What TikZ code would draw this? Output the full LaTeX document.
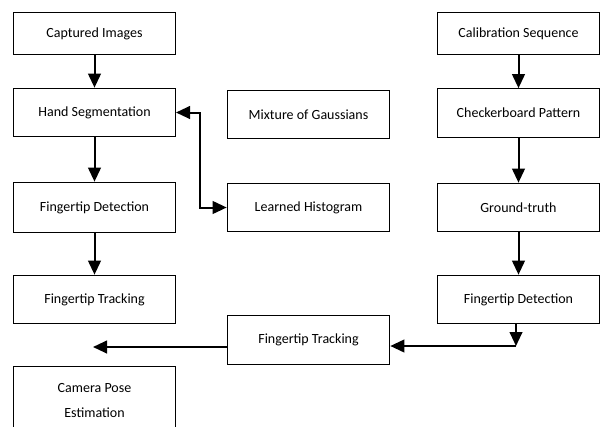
\documentclass[tikz,border=0pt]{standalone}
\usepackage{fontspec}
\setmainfont{Carlito}
\usetikzlibrary{arrows.meta}

\begin{document}
\begin{tikzpicture}[x=0.75pt,y=0.75pt,yscale=-1,xscale=1,
    blk/.style={draw,line width=0.75pt,minimum width=121.5pt,minimum height=36.5pt,inner sep=0pt,align=center,font=\fontsize{10.5}{18.5}\selectfont},
    arr/.style={line width=1.5pt,-{Triangle[length=10.5pt,width=9.5pt]}},
    arrb/.style={line width=1.5pt,{Triangle[length=10.5pt,width=9.5pt]}-{Triangle[length=10.5pt,width=9.5pt]}}]
            \useasboundingbox (0,0) rectangle (601,426);
            \clip (0,0) rectangle (601,426);
            \node [blk,minimum height=32pt] (capimg) at (94.5,33.5) {Captured Images};
            \node [blk] (handseg) at (94.5,112.5) {Hand Segmentation};
            \node [blk,minimum height=38pt] (fdetL) at (94.5,207.5) {Fingertip Detection};
            \node [blk] (ftrackL) at (94.5,299.5) {Fingertip Tracking};
            \node [blk,minimum height=51pt] (campose) at (94.5,400.5) {Camera Pose\\Estimation};
            \node [blk,minimum width=122pt] (mog) at (308.5,114.5) {Mixture of Gaussians};
            \node [blk,minimum width=122pt] (learnhist) at (308.5,207.5) {Learned Histogram};
            \node [blk,minimum width=122pt] (ftrackM) at (308.5,340) {Fingertip Tracking};
            \node [blk,minimum height=32pt] (calseq) at (518.5,33.5) {Calibration Sequence};
            \node [blk] (checker) at (518.5,113) {Checkerboard Pattern};
            \node [blk] (gtruth) at (518.5,207.5) {Ground-truth};
            \node [blk] (fdetR) at (518.5,299.5) {Fingertip Detection};
            \coordinate (turn) at (516,346);
            \coordinate (poseend) at (93,347);
            \draw [arr] (capimg.south) -- (handseg.north);
            \draw [arr] (handseg.south) -- (fdetL.north);
            \draw [arr] (fdetL.south) -- (ftrackL.north);
            \draw [arrb] (handseg.east) -- ++(24,0) |- (learnhist.west);
            \draw [arr] (calseq.south) -- (checker.north);
            \draw [arr] (checker.south) -- (gtruth.north);
            \draw [arr] (gtruth.south) -- (fdetR.north);
            \draw [arr] (fdetR.south -| turn) -- (turn);
            \draw [arr] (turn) -- (turn -| ftrackM.east);
            \draw [arr] (ftrackM.west |- poseend) -- (poseend);
\end{tikzpicture}
\end{document}
